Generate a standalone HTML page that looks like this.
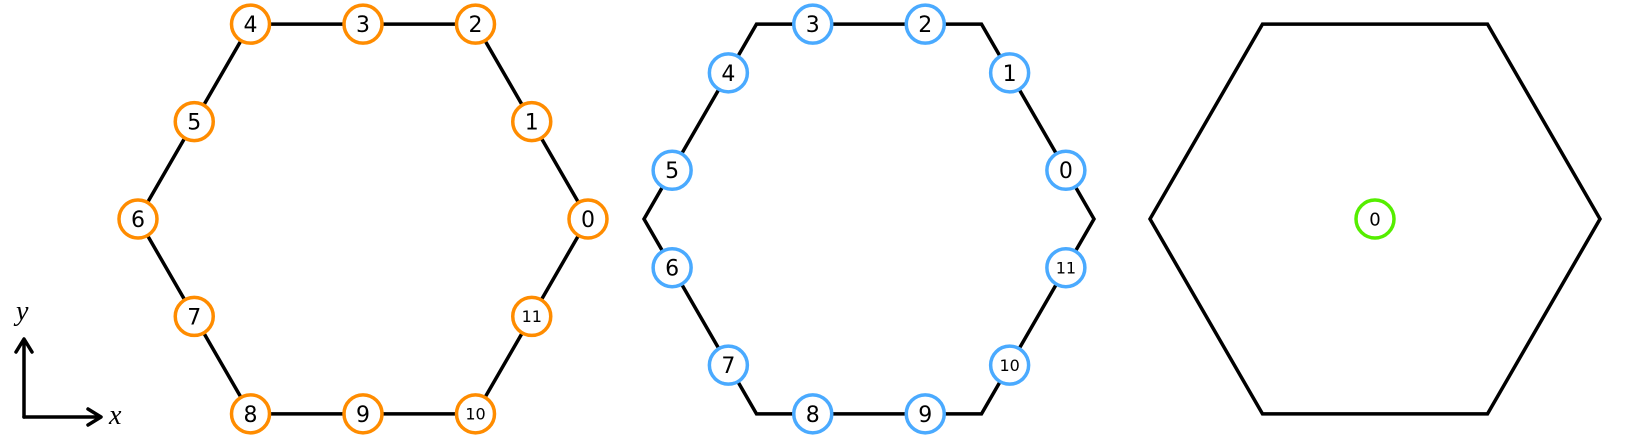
<!DOCTYPE html>
<html><head><meta charset="utf-8"><style>
html,body{margin:0;padding:0;background:#fff;}
svg{display:block;}
text{font-family:"DejaVu Sans","Liberation Sans",sans-serif;}
</style></head><body>
<svg id="chart" width="1625" height="439" viewBox="0 0 1625 439" xmlns="http://www.w3.org/2000/svg">
<g id="axes">
  <path d="M24 417 H100 M88 409 L101 417 L88 425" fill="none" stroke="#000" stroke-width="3.5" stroke-linecap="round" stroke-linejoin="round"/>
  <path d="M24 417 V340 M16 352 L24 339 L32 352" fill="none" stroke="#000" stroke-width="3.5" stroke-linecap="round" stroke-linejoin="round"/>
  <text x="109" y="424" font-style="italic" font-size="28" style="font-family:'Liberation Serif',serif">x</text>
  <text x="16" y="320" font-size="28" font-style="italic" style="font-family:'Liberation Serif',serif">y</text>
</g>
</svg>
<script>
const hexCenters = [363, 869, 1375];
const hexCenterY = 219;
const hexRadius = 225;
const panel1Labels = ["0","1","2","3","4","5","6","7","8","9","10","11"];
const panel2Labels = ["0","1","2","3","4","5","6","7","8","9","10","11"];
const panel3Labels = ["0"];
const panelColors = ["#ff8c00", "#4aaaff", "#55ee00"];

const NS = "http://www.w3.org/2000/svg";
const svg = document.getElementById("chart");
function mk(tag, attrs){const e=document.createElementNS(NS,tag);for(const k in attrs)e.setAttribute(k,attrs[k]);return e;}
function vert(cx, cy, k){const a=k*Math.PI/3;return [cx+hexRadius*Math.cos(a), cy-hexRadius*Math.sin(a)];}
function edgePoint(cx, cy, pos){
  // pos in units of edges (0..6), linear along perimeter
  const k = Math.floor(pos) % 6, f = pos - Math.floor(pos);
  const a = vert(cx, cy, k), b = vert(cx, cy, k+1);
  return [a[0]+(b[0]-a[0])*f, a[1]+(b[1]-a[1])*f];
}
hexCenters.forEach((cx, p) => {
  const g = mk("g", {});
  
  
  svg.appendChild(g);
  const pts = [];
  for (let k=0;k<6;k++){const v=vert(cx,hexCenterY,k);pts.push(v[0].toFixed(1)+","+v[1].toFixed(1));}
  const poly = mk("polygon",{points:pts.join(" "),fill:"none",stroke:"#000","stroke-width":3.5,"stroke-linejoin":"miter"});
  
  
  g.appendChild(poly);
  const labels = p===0?panel1Labels:(p===1?panel2Labels:panel3Labels);
  labels.forEach((lab, i) => {
    let x, y;
    if (p===0) [x,y] = edgePoint(cx, hexCenterY, i*0.5);
    else if (p===1) [x,y] = edgePoint(cx, hexCenterY, 0.25 + i*0.5);
    else { x = cx; y = hexCenterY; }
    const ng = mk("g", {});
    
    
    g.appendChild(ng);
    ng.appendChild(mk("circle",{cx:x,cy:y,r:19,fill:"#fff",stroke:panelColors[p],"stroke-width":3.5}));
    const fs = p===2?18:(lab.length>1?16:22);
    const t = mk("text",{x:x,y:y+fs*0.36,"text-anchor":"middle","font-size":fs,fill:"#000"});
    t.textContent = lab;
    
    
    ng.appendChild(t);
  });
});
</script>
</body></html>
